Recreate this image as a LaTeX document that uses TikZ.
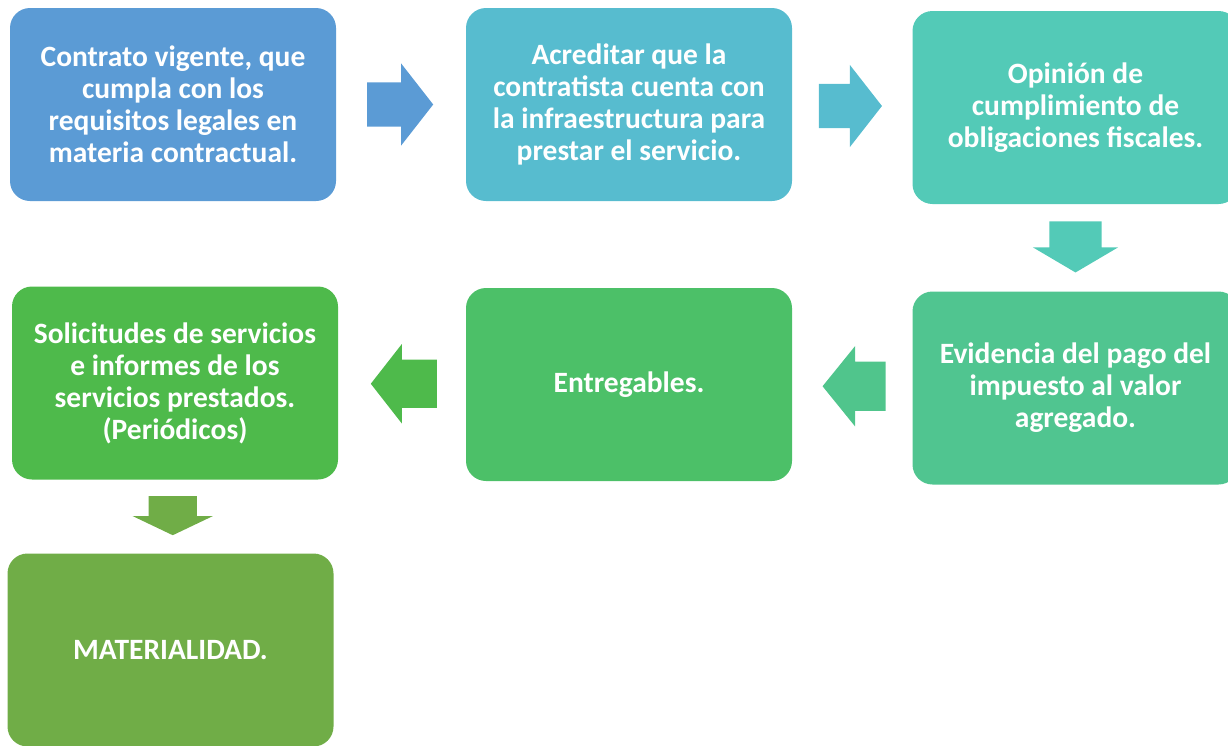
\documentclass[tikz,border=0pt]{standalone}
\usepackage{fontspec}
\setmainfont{Carlito}
\usepackage{xcolor}
\usetikzlibrary{shapes.arrows,calc}
\definecolor{pazul}{HTML}{5B9BD5}
\definecolor{pcian}{HTML}{57BCCF}
\definecolor{pturq}{HTML}{53CAB7}
\definecolor{pmenta}{HTML}{50C590}
\definecolor{pverde}{HTML}{4CC068}
\definecolor{pverdeb}{HTML}{4EBA4B}
\definecolor{polivo}{HTML}{70AD47}

\tikzset{
	paso/.style={rounded corners=20pt, inner sep=0pt, minimum width=326pt, minimum height=193pt,
		text=white, align=center, font=\bfseries\fontsize{29.5}{32}\selectfont},
	flecha/.style={single arrow, draw=none, anchor=tail, inner xsep=0pt, inner ysep=22pt, minimum height=66pt,
		single arrow head extend=19pt, single arrow tip angle=104},
	flechaabajo/.style={flecha, shape border rotate=270, inner ysep=0pt},
}

\begin{document}
\begin{tikzpicture}[x=1pt, y=-1pt]
		\useasboundingbox (0,0) rectangle (1228,745);
		% pasos
		\node[paso, fill=pazul] (contrato) at (173,104.5) {Contrato vigente, que\\cumpla con los\\requisitos legales en\\materia contractual.};
		\node[paso, fill=pcian] (acreditar) at (629,104.5) {Acreditar que la\\contratista cuenta con\\la infraestructura para\\prestar el servicio.};
		\node[paso, fill=pturq] (opinion) at (1075.5,107.5) {Opinión de\\cumplimiento de\\obligaciones fiscales.};
		\node[paso, fill=pmenta] (evidencia) at (1075.5,388) {Evidencia del pago del\\impuesto al valor\\agregado.};
		\node[paso, fill=pverde] (entregables) at (629,384.5) {Entregables.};
		\node[paso, fill=pverdeb] (solicitudes) at (175,383) {Solicitudes de servicios\\e informes de los\\servicios prestados.\\(Periódicos)};
		\node[paso, fill=polivo] (materialidad) at (170.5,650) {MATERIALIDAD.};
		% flechas
		\node[flecha, fill=pazul] (f1) at ($(contrato.east)!.5!(acreditar.west)+(-34,0)$) {};
		\node[flecha, fill=pcian, minimum height=63pt] (f2) at ($(acreditar.east)!.5!(opinion.west)+(-33.5,0)$) {};
		\node[flechaabajo, fill=pturq, minimum height=51pt, inner xsep=26pt,
			single arrow head extend=16.5pt, single arrow tip angle=119] (f3) at ($(opinion.south)!.5!(evidencia.north)+(0,-26.5)$) {};
		\node[flecha, fill=pmenta!90!pverde, shape border rotate=180, minimum height=63pt, inner ysep=24.5pt,
			single arrow head extend=15.5pt, single arrow tip angle=102] (f4) at ($(evidencia.west)!.5!(entregables.east)+(33.5,0)$) {};
		\node[flecha, fill=pverdeb, shape border rotate=180, inner ysep=24pt,
			single arrow head extend=15.5pt] (f5) at ($(entregables.west)!.5!(solicitudes.east)+(35,0)$) {};
		\node[flechaabajo, fill=polivo, minimum height=39pt, inner xsep=24pt,
			single arrow head extend=16pt, single arrow tip angle=129] (f6) at ($(solicitudes.south)!.5!(materialidad.north)+(0,-20.5)$) {};
	\end{tikzpicture}
\end{document}
